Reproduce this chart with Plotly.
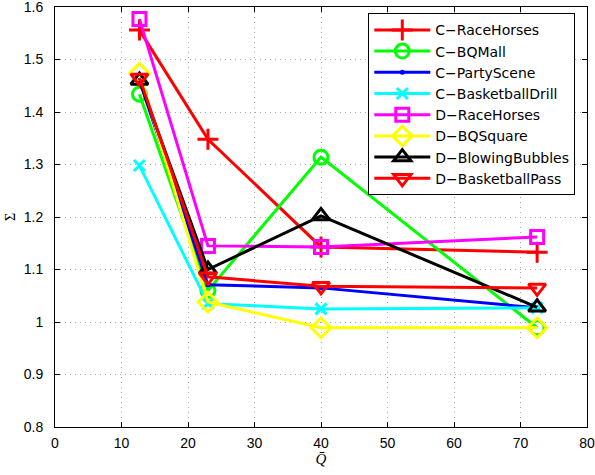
import plotly.graph_objects as go

q = [12.7, 23.0, 40.0, 72.5]
names = ["C\u2212RaceHorses", "C\u2212BQMall", "C\u2212PartyScene", "C\u2212BasketballDrill",
         "D\u2212RaceHorses", "D\u2212BQSquare", "D\u2212BlowingBubbles", "D\u2212BasketballPass"]
c_racehorses = [1.556, 1.348, 1.143, 1.133]
c_bqmall = [1.434, 1.060, 1.314, 0.989]
c_partyscene = [1.460, 1.071, 1.065, 1.027]
c_basketballdrill = [1.298, 1.035, 1.025, 1.027]
d_racehorses = [1.577, 1.145, 1.143, 1.162]
d_bqsquare = [1.474, 1.038, 0.989, 0.989]
d_blowingbubbles = [1.460, 1.100, 1.202, 1.028]
d_basketballpass = [1.465, 1.086, 1.068, 1.065]

series = [c_racehorses, c_bqmall, c_partyscene, c_basketballdrill,
          d_racehorses, d_bqsquare, d_blowingbubbles, d_basketballpass]
colors = ["#FF0000", "#00FF00", "#0000FF", "#00FFFF", "#FF00FF", "#FFFF00", "#000000", "#FF0000"]
symbols = ["cross-thin-open", "circle-open", "circle", "x-thin-open", "square-open",
           "diamond-open", "triangle-up-open", "triangle-down-open"]
sizes = [15, 14, 2, 11, 13, 15, 15, 15]

fig = go.Figure()
for n, y, c, s, sz in zip(names, series, colors, symbols, sizes):
    fig.add_trace(go.Scatter(
        x=q, y=y, name=n, mode="lines+markers",
        line=dict(color=c, width=3),
        marker=dict(symbol=s, size=sz, color=c, line=dict(color=c, width=3)),
    ))

axis_common = dict(
    showline=True, linecolor="black", linewidth=1, mirror="ticks",
    ticks="inside", ticklen=5, tickcolor="black", ticklabeloverflow="allow",
    automargin=False,
    showgrid=True, gridcolor="#a8a8a8", griddash="1px,4px", gridwidth=1,
    zeroline=False, tickfont=dict(family="Liberation Sans, Arial", size=14, color="black"),
)
fig.update_xaxes(range=[0, 80], dtick=10, ticklabelstandoff=3, **axis_common,
                 title=dict(text="<i>Q\u0304</i>", font=dict(family="Liberation Serif", size=15, color="black"), standoff=2))
fig.update_yaxes(range=[0.8, 1.6], dtick=0.1, tickformat="~g", ticklabelstandoff=8, **axis_common,
                 title=dict(text="\u03a3", font=dict(family="Liberation Serif", size=14, color="black"), standoff=4))

fig.update_layout(
    width=595, height=475,
    margin=dict(l=55, r=8, t=7, b=48, autoexpand=False),
    plot_bgcolor="white", paper_bgcolor="white",
    font=dict(family="Liberation Sans, Arial", color="black"),
    legend=dict(x=0.978, y=0.985, xanchor="right", yanchor="top",
                bordercolor="black", borderwidth=1, bgcolor="white",
                font=dict(size=14, family="DejaVu Sans"),
                tracegroupgap=0, itemwidth=56),
    showlegend=True,
)
fig.write_html("out.html", config={"displayModeBar": False},
               post_script="document.body.style.margin='0';document.body.style.overflow='hidden';")
